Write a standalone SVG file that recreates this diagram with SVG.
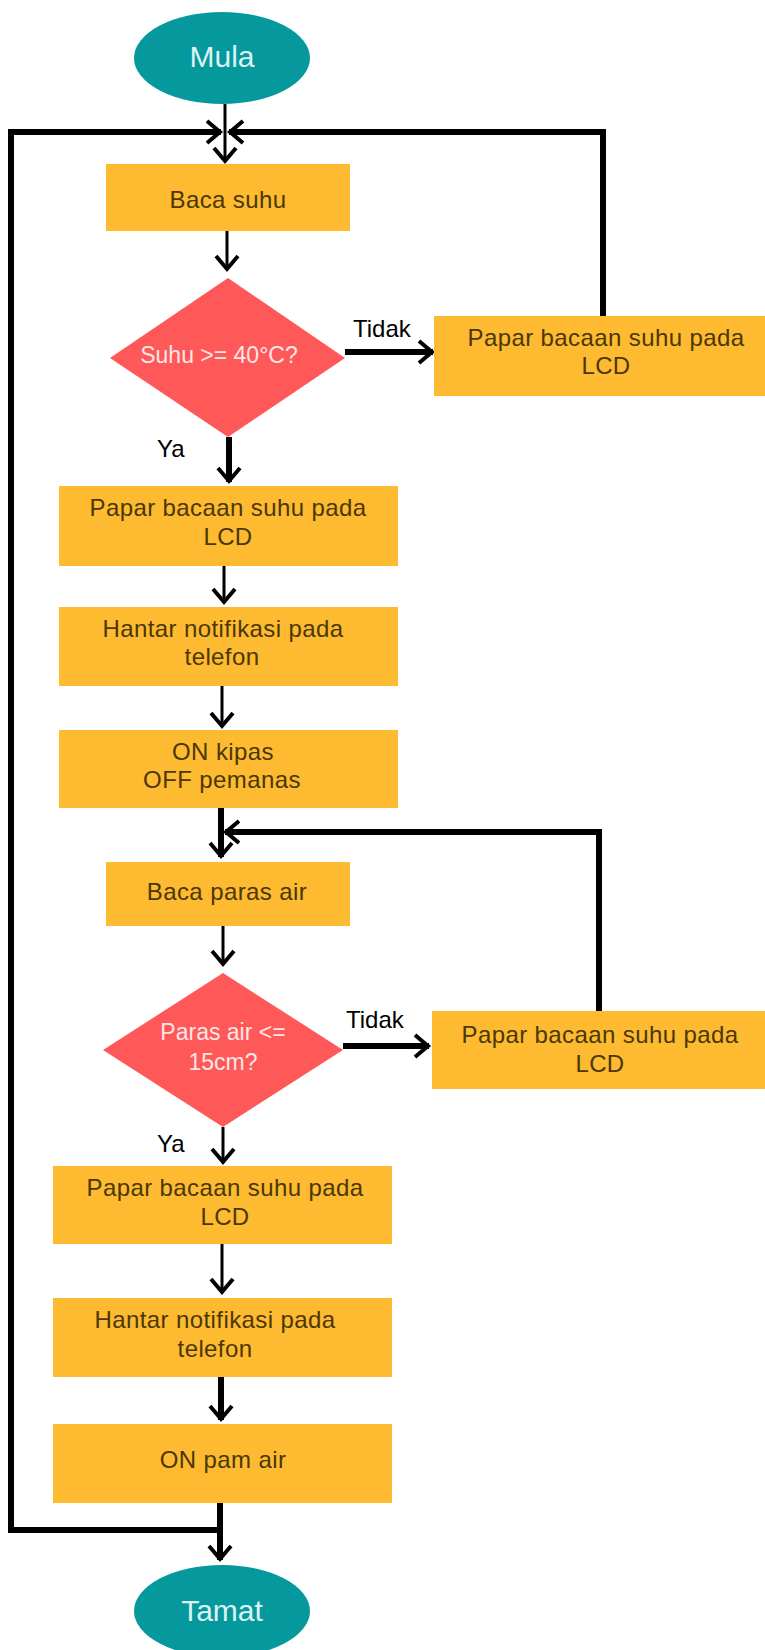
<svg xmlns="http://www.w3.org/2000/svg" width="765" height="1650" viewBox="0 0 765 1650">
<style>
.term{fill:#05989C}
.proc{fill:#FEBA30}
.dec{fill:#FF5858}
.tt{font-family:"Liberation Sans",Arial,sans-serif;font-size:30px;fill:#DDF3F3;text-anchor:middle}
.pt{font-family:"Liberation Sans",Arial,sans-serif;font-size:24px;letter-spacing:0.4px;fill:#4A3806;text-anchor:middle}
.dt{font-family:"Liberation Sans",Arial,sans-serif;font-size:23px;fill:#FFE6E6;text-anchor:middle}
.lb{font-family:"Liberation Sans",Arial,sans-serif;font-size:24px;fill:#000}
.thin{fill:none;stroke:#000;stroke-width:3}
.thick{fill:none;stroke:#000;stroke-width:6}
</style>
<defs>
<marker id="chev" markerUnits="userSpaceOnUse" markerWidth="40" markerHeight="40" viewBox="-20 -20 40 40" refX="0" refY="0" orient="auto" overflow="visible">
<path d="M-14,-11 L-1,0 L-14,11" fill="none" stroke="#000" stroke-width="4" stroke-linejoin="miter"/>
</marker>
</defs>
<rect width="765" height="1650" fill="#fff"/>

<g id="connectors">
<path class="thin" d="M225,104 L225,162" marker-end="url(#chev)"/>
<path class="thick" d="M220,1530 L11,1530 L11,132 L221,132" marker-end="url(#chev)"/>
<path class="thick" d="M603,316 L603,132 L229,132" marker-end="url(#chev)"/>
<path class="thin" d="M227,231 L227,270" marker-end="url(#chev)"/>
<path class="thick" d="M345,352 L433,352" marker-end="url(#chev)"/>
<path class="thick" d="M229,437 L229,482" marker-end="url(#chev)"/>
<path class="thin" d="M224,566 L224,603" marker-end="url(#chev)"/>
<path class="thin" d="M222,686 L222,727" marker-end="url(#chev)"/>
<path class="thick" d="M221,808 L221,857" marker-end="url(#chev)"/>
<path class="thick" d="M599,1011 L599,832 L225,832" marker-end="url(#chev)"/>
<path class="thin" d="M223,926 L223,965" marker-end="url(#chev)"/>
<path class="thick" d="M343,1046 L429,1046" marker-end="url(#chev)"/>
<path class="thin" d="M223,1127 L223,1163" marker-end="url(#chev)"/>
<path class="thin" d="M222,1244 L222,1293" marker-end="url(#chev)"/>
<path class="thick" d="M221,1377 L221,1420" marker-end="url(#chev)"/>
<path class="thick" d="M220,1503 L220,1560" marker-end="url(#chev)"/>
<text class="lb" x="353" y="337">Tidak</text>
<text class="lb" x="157" y="457">Ya</text>
<text class="lb" x="346" y="1028">Tidak</text>
<text class="lb" x="157" y="1152">Ya</text>
</g>

<g id="mula">
<ellipse class="term" cx="222" cy="58" rx="88" ry="46"/>
<text class="tt" x="222" y="67">Mula</text>
</g>

<g id="baca-suhu">
<rect class="proc" x="106" y="164" width="244" height="67"/>
<text class="pt" x="228" y="208">Baca suhu</text>
</g>

<g id="dec-suhu">
<polygon class="dec" points="228,278 345,358 228,437 110,358"/>
<text class="dt" x="219" y="363">Suhu &gt;= 40°C?</text>
</g>

<g id="papar-r1">
<rect class="proc" x="434" y="316" width="331" height="80"/>
<text class="pt" x="606" y="346">Papar bacaan suhu pada</text>
<text class="pt" x="606" y="374">LCD</text>
</g>

<g id="papar-1">
<rect class="proc" x="59" y="486" width="339" height="80"/>
<text class="pt" x="228" y="516">Papar bacaan suhu pada</text>
<text class="pt" x="228" y="545">LCD</text>
</g>

<g id="hantar-1">
<rect class="proc" x="59" y="607" width="339" height="79"/>
<text class="pt" x="223" y="637">Hantar notifikasi pada</text>
<text class="pt" x="222" y="665">telefon</text>
</g>

<g id="on-kipas">
<rect class="proc" x="59" y="730" width="339" height="78"/>
<text class="pt" x="223" y="760">ON kipas</text>
<text class="pt" x="222" y="788">OFF pemanas</text>
</g>

<g id="baca-paras">
<rect class="proc" x="106" y="862" width="244" height="64"/>
<text class="pt" x="227" y="900">Baca paras air</text>
</g>

<g id="dec-paras">
<polygon class="dec" points="223,973 343,1050 223,1127 103,1050"/>
<text class="dt" x="223" y="1040">Paras air &lt;=</text>
<text class="dt" x="223" y="1070">15cm?</text>
</g>

<g id="papar-r2">
<rect class="proc" x="432" y="1011" width="333" height="78"/>
<text class="pt" x="600" y="1043">Papar bacaan suhu pada</text>
<text class="pt" x="600" y="1072">LCD</text>
</g>

<g id="papar-2">
<rect class="proc" x="53" y="1166" width="339" height="78"/>
<text class="pt" x="225" y="1196">Papar bacaan suhu pada</text>
<text class="pt" x="225" y="1225">LCD</text>
</g>

<g id="hantar-2">
<rect class="proc" x="53" y="1298" width="339" height="79"/>
<text class="pt" x="215" y="1328">Hantar notifikasi pada</text>
<text class="pt" x="215" y="1357">telefon</text>
</g>

<g id="on-pam">
<rect class="proc" x="53" y="1424" width="339" height="79"/>
<text class="pt" x="223" y="1468">ON pam air</text>
</g>

<g id="tamat">
<ellipse class="term" cx="222" cy="1611" rx="88" ry="46"/>
<text class="tt" x="222" y="1621">Tamat</text>
</g>
</svg>
